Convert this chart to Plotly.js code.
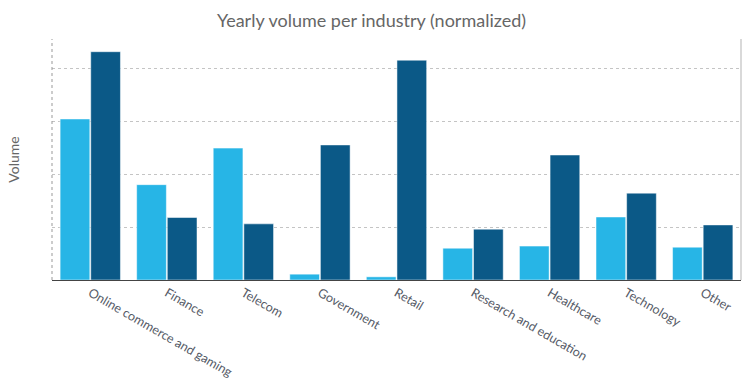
<!DOCTYPE html>
<html><head><meta charset="utf-8">
<script src="https://cdn.plot.ly/plotly-3.0.1.min.js"></script>
<style>html,body{margin:0;padding:0;background:#fff}#chart{width:743px;height:385px}</style>
</head><body><div id="chart"></div>
<script>
const categories = ["Online commerce and gaming","Finance","Telecom","Government","Retail","Research and education","Healthcare","Technology","Other"];
const seriesA = [3.04, 1.80, 2.49, 0.11, 0.06, 0.60, 0.64, 1.19, 0.62];
const seriesB = [4.31, 1.18, 1.06, 2.55, 4.15, 0.96, 2.36, 1.64, 1.04];

const fontFam = "Lato, 'Open Sans', sans-serif";
const traces = [
  {type:'bar', x:categories, y:seriesA, name:'A', marker:{color:'#27b5e6', line:{color:'#ffffff', width:0.5}}, hoverinfo:'skip'},
  {type:'bar', x:categories, y:seriesB, name:'B', marker:{color:'#0b5987', line:{color:'#ffffff', width:0.5}}, hoverinfo:'skip'}
];
const layout = {
  width:743, height:385,
  margin:{l:52, r:2, t:39, b:105},
  paper_bgcolor:'#fff', plot_bgcolor:'#fff',
  showlegend:false,
  barmode:'group', bargap:0.2, bargroupgap:0.03,
  title:{text:'Yearly volume per industry (normalized)', x:0.5, xanchor:'center', y:0.963, yanchor:'top', font:{family:fontFam, size:18, color:'#666'}},
  xaxis:{tickangle:30, tickfont:{family:fontFam, size:12.6, color:'#555a66'}, showline:true, linecolor:'#444', linewidth:1, ticks:'', showgrid:false},
  yaxis:{range:[0,4.55], dtick:1, showticklabels:false, ticks:'', showgrid:true, gridcolor:'#c4c4c4', griddash:'dot', gridwidth:1, zeroline:false,
         title:{text:'Volume', font:{family:fontFam, size:14, color:'#666'}, standoff:28}},
  shapes:[
    {type:'line', xref:'paper', yref:'paper', x0:0, x1:0, y0:0, y1:1, line:{color:'#999', width:1, dash:'dot'}},
    {type:'line', xref:'paper', yref:'paper', x0:1, x1:1, y0:0, y1:1, line:{color:'#cccccc', width:1.5}}
  ]
};
Plotly.newPlot('chart', traces, layout, {staticPlot:true});
</script></body></html>
